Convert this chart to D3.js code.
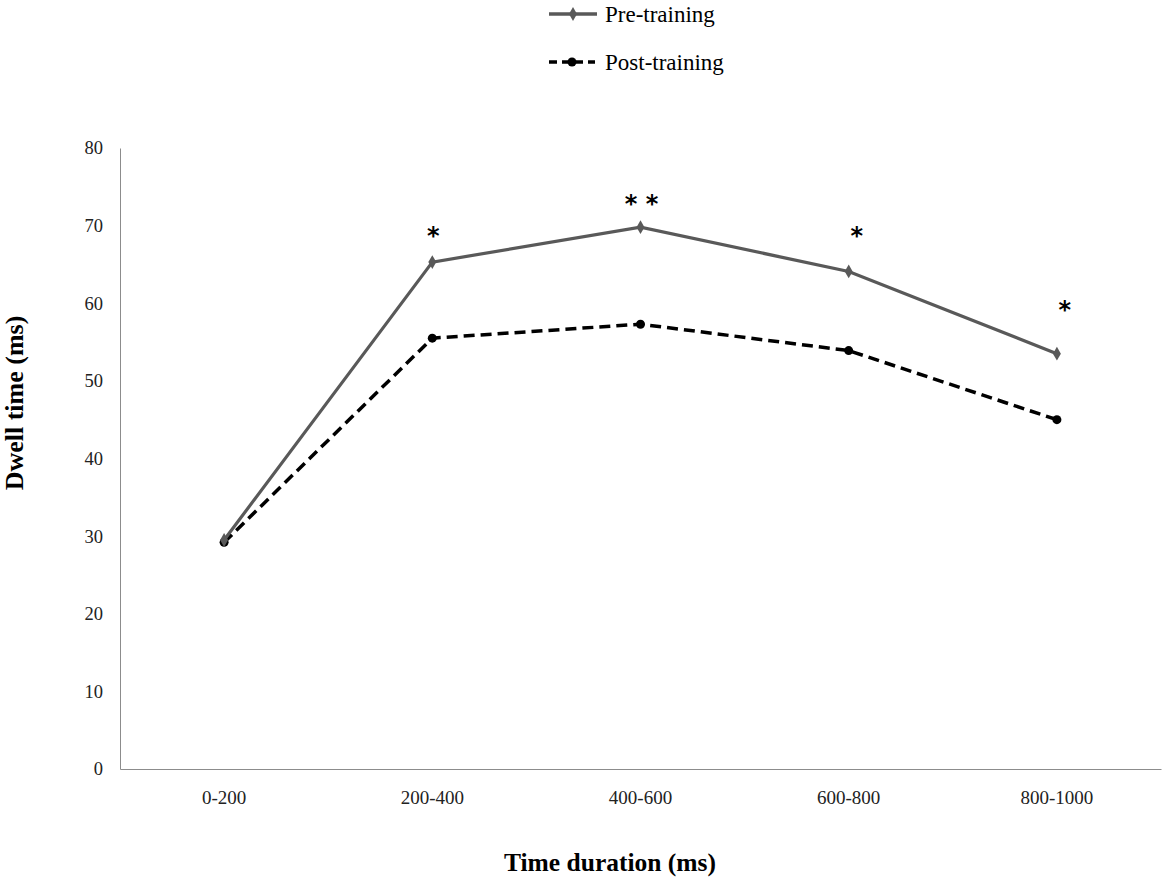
<!DOCTYPE html>
<html>
<head>
<meta charset="utf-8">
<script src="https://cdn.jsdelivr.net/npm/d3@7"></script>
<style>
  body { margin:0; background:#fff; }
  text { font-family: "Liberation Serif", "DejaVu Serif", serif; }
</style>
</head>
<body>
<script>
const categories = ['0-200','200-400','400-600','600-800','800-1000'];
const preTraining = [29.5, 65.3, 69.8, 64.1, 53.5];
const postTraining = [29.2, 55.5, 57.3, 53.9, 45.0];
const yTicks = [0,10,20,30,40,50,60,70,80];
// significance marks and the height (in ms) where they sit
const sigMarks = ['', '*', '* *', '*', '*'];
const sigLevel = [0, 69.1, 73.2, 69.1, 59.5];

const W = 1170, H = 882;
const margin = {top:148, right:9, bottom:113, left:120};

const svg = d3.select('body').append('svg')
    .attr('width', W).attr('height', H);

const x = d3.scaleBand()
    .domain(categories)
    .range([margin.left, W - margin.right]);

const y = d3.scaleLinear()
    .domain([0, 80])
    .range([H - margin.bottom, margin.top]);

const cx = d => x(d) + x.bandwidth()/2;

// axes
const yAxis = svg.append('g')
    .attr('transform', `translate(${margin.left},0)`)
    .call(d3.axisLeft(y).tickValues(yTicks).tickSize(0).tickPadding(17));
yAxis.select('.domain').attr('stroke','#8c8c8c');
yAxis.selectAll('text').attr('font-size',18.5).attr('fill','#222')
    .style('font-family','"Liberation Serif", serif');

const xAxis = svg.append('g')
    .attr('transform', `translate(0,${H - margin.bottom})`)
    .call(d3.axisBottom(x).tickSize(0).tickPadding(22));
xAxis.select('.domain').attr('stroke','#8c8c8c');
xAxis.selectAll('text').attr('font-size',19).attr('fill','#222')
    .style('font-family','"Liberation Serif", serif');

// axis titles
svg.append('text')
    .attr('transform', 'translate(23,403) rotate(-90)')
    .attr('text-anchor','middle')
    .attr('font-size',26).attr('font-weight','bold')
    .text('Dwell time (ms)');

svg.append('text')
    .attr('x', 610).attr('y', 871)
    .attr('text-anchor','middle')
    .attr('font-size',25.5).attr('font-weight','bold')
    .text('Time duration (ms)');

const line = d3.line()
    .x((d,i) => cx(categories[i]))
    .y(d => y(d));

// post-training (dashed)
svg.append('path')
    .datum(postTraining)
    .attr('fill','none')
    .attr('stroke','#000')
    .attr('stroke-width',3.5)
    .attr('stroke-dasharray','11,6')
    .attr('d', line);

svg.selectAll('circle.post')
    .data(postTraining)
    .enter().append('circle')
    .attr('class','post')
    .attr('cx', (d,i) => cx(categories[i]))
    .attr('cy', d => y(d))
    .attr('r', 4.5)
    .attr('fill','#000');

// pre-training (solid)
svg.append('path')
    .datum(preTraining)
    .attr('fill','none')
    .attr('stroke','#595959')
    .attr('stroke-width',3.2)
    .attr('d', line);

const diamond = d3.symbol().type(d3.symbolDiamond).size(55);
svg.selectAll('path.pre')
    .data(preTraining)
    .enter().append('path')
    .attr('class','pre')
    .attr('transform', (d,i) => `translate(${cx(categories[i])},${y(d)})`)
    .attr('d', diamond)
    .attr('fill','#595959');

// asterisks
svg.selectAll('text.sig')
    .data(sigMarks)
    .enter().append('text')
    .attr('class','sig')
    .attr('x', (d,i) => cx(categories[i]) + (i >= 3 ? 8 : 1))
    .attr('y', (d,i) => y(sigLevel[i]) + 11)
    .attr('text-anchor','middle')
    .attr('font-size',24).attr('font-weight','bold')
    .style('font-family','"DejaVu Sans", sans-serif')
    .text(d => d);

// legend
const legend = svg.append('g').attr('transform','translate(549,0)');
legend.append('line')
    .attr('x1',0).attr('x2',48).attr('y1',14).attr('y2',14)
    .attr('stroke','#595959').attr('stroke-width',3.5);
legend.append('path')
    .attr('transform','translate(24,14)')
    .attr('d', diamond).attr('fill','#595959');
legend.append('text')
    .attr('x',56).attr('y',22)
    .attr('font-size',23)
    .text('Pre-training');

legend.append('line')
    .attr('x1',0).attr('x2',46).attr('y1',62).attr('y2',62)
    .attr('stroke','#000').attr('stroke-width',3.5)
    .attr('stroke-dasharray','8,5');
legend.append('circle')
    .attr('cx',23).attr('cy',62).attr('r',4.5).attr('fill','#000');
legend.append('text')
    .attr('x',56).attr('y',70)
    .attr('font-size',23)
    .text('Post-training');
</script>
</body>
</html>
